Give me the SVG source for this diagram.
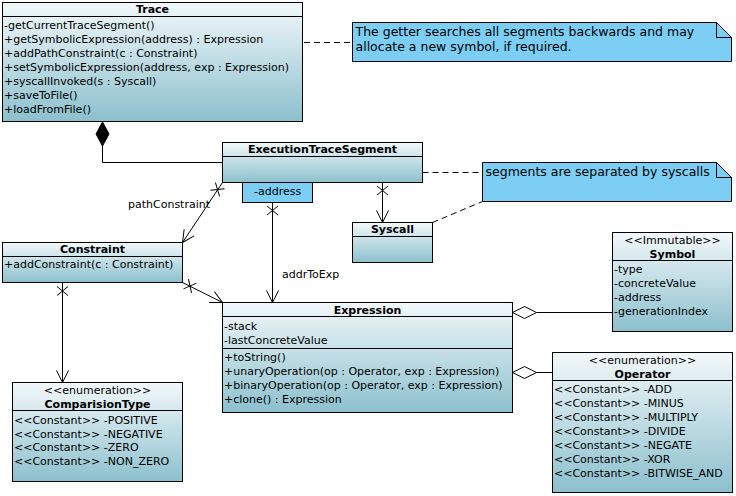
<svg xmlns="http://www.w3.org/2000/svg" width="736" height="496" viewBox="0 0 736 496">
<style>
text{font-family:"DejaVu Sans","Liberation Sans",sans-serif;font-size:11px;fill:#000}
.t{font-weight:bold;text-anchor:middle}
.st{text-anchor:middle}
.nt{font-size:12.5px}
.box{fill:url(#g);stroke:#000;stroke-width:1}
.div{stroke:#000;stroke-width:1;fill:none}
.note{fill:#7ccef4;stroke:#000;stroke-width:1}
.ln{stroke:#000;stroke-width:1;fill:none}
.dash{stroke:#000;stroke-width:1;fill:none;stroke-dasharray:6,4}
</style>
<defs>
<linearGradient id="g" x1="0" y1="0" x2="0" y2="1">
<stop offset="0" stop-color="#f2f8fa"/>
<stop offset="1" stop-color="#8cc0cd"/>
</linearGradient>
<marker id="arr" viewBox="-14 -8 16 16" markerWidth="16" markerHeight="16" refX="0" refY="0" orient="auto" markerUnits="userSpaceOnUse">
<path d="M-12,-6 L0,0 L-12,6" fill="none" stroke="#000" stroke-width="1"/>
</marker>
<path id="x" d="M-4.5,-5.5 L4.5,5.5 M-4.5,5.5 L4.5,-5.5" stroke="#000" stroke-width="1" fill="none"/>
</defs>

<g id="connectors">
<polygon points="102.5,122 109,134 102.5,146 96,134" fill="#000" stroke="#000"/>
<path class="ln" d="M102.5,146 V162.5 H222.5"/>
<path class="dash" d="M264,42.5 H352.5"/>
<path class="dash" d="M422.5,172.5 H482.5"/>
<path class="dash" d="M432.5,222.5 L482.5,201.5"/>
<path class="ln" d="M382.5,182.5 V222.5" marker-end="url(#arr)"/>
<use href="#x" transform="translate(382.5,190.5) rotate(90)"/>
<path class="ln" d="M222.5,182.5 L182.5,242.5" marker-end="url(#arr)"/>
<use href="#x" transform="translate(217.5,189.5) rotate(123.7)"/>
<text x="128" y="208">pathConstraint</text>
<path class="ln" d="M272.5,202.5 V302.5" marker-end="url(#arr)"/>
<use href="#x" transform="translate(272.5,210.5) rotate(90)"/>
<text x="282" y="278">addrToExp</text>
<path class="ln" d="M182.5,282.5 L222.5,302.5" marker-end="url(#arr)"/>
<use href="#x" transform="translate(190,286) rotate(26.6)"/>
<path class="ln" d="M62.5,282.5 V382.5" marker-end="url(#arr)"/>
<use href="#x" transform="translate(62.5,291) rotate(90)"/>
<polygon points="512.5,312.5 524.5,306.5 536.5,312.5 524.5,318.5" fill="#fff" stroke="#000"/>
<path class="ln" d="M536.5,312.5 H612.5"/>
<polygon points="512.5,372.5 524.5,366.5 536.5,372.5 524.5,378.5" fill="#fff" stroke="#000"/>
<path class="ln" d="M536.5,372.5 H552.5"/>
</g>

<g id="Trace">
<rect class="box" x="2.5" y="2.5" width="300" height="119"/>
<path class="div" d="M2.5,16.5 H302.5"/>
<text class="t" x="152.5" y="13">Trace</text>
<text x="4" y="29">-getCurrentTraceSegment()</text>
<text x="4" y="43">+getSymbolicExpression(address) : Expression</text>
<text x="4" y="57">+addPathConstraint(c : Constraint)</text>
<text x="4" y="71">+setSymbolicExpression(address, exp : Expression)</text>
<text x="4" y="85">+syscallInvoked(s : Syscall)</text>
<text x="4" y="99">+saveToFile()</text>
<text x="4" y="113">+loadFromFile()</text>
</g>

<g id="Note1">
<path class="note" d="M352.5,22.5 H716.5 L731.5,37.5 V61.5 H352.5 Z"/>
<path class="ln" d="M716.5,22.5 V37.5 H731.5"/>
<text class="nt" x="355.5" y="36">The getter searches all segments backwards and may</text>
<text class="nt" x="355.5" y="50.5">allocate a new symbol, if required.</text>
</g>

<g id="ExecutionTraceSegment">
<rect class="box" x="222.5" y="142.5" width="200" height="40"/>
<path class="div" d="M222.5,156.5 H422.5"/>
<text class="t" x="322.5" y="153">ExecutionTraceSegment</text>
</g>

<g id="address">
<rect class="note" x="242.5" y="182.5" width="70" height="20"/>
<text x="254" y="194.5">-address</text>
</g>

<g id="Note2">
<path class="note" d="M482.5,162.5 H716.5 L731.5,177.5 V201.5 H482.5 Z"/>
<path class="ln" d="M716.5,162.5 V177.5 H731.5"/>
<text class="nt" x="485.5" y="176">segments are separated by syscalls</text>
</g>

<g id="Syscall">
<rect class="box" x="352.5" y="222.5" width="80" height="40"/>
<path class="div" d="M352.5,236.5 H432.5"/>
<text class="t" x="392.5" y="233">Syscall</text>
</g>

<g id="Constraint">
<rect class="box" x="2.5" y="242.5" width="180" height="40"/>
<path class="div" d="M2.5,256.5 H182.5"/>
<text class="t" x="92.5" y="253">Constraint</text>
<text x="4" y="268">+addConstraint(c : Constraint)</text>
</g>

<g id="Symbol">
<rect class="box" x="612.5" y="232.5" width="120" height="99"/>
<path class="div" d="M612.5,260.5 H732.5"/>
<text class="st" x="672.5" y="243.5">&lt;&lt;Immutable&gt;&gt;</text>
<text class="t" x="672.5" y="257.5">Symbol</text>
<text x="614" y="273">-type</text>
<text x="614" y="287">-concreteValue</text>
<text x="614" y="301">-address</text>
<text x="614" y="315">-generationIndex</text>
</g>

<g id="Expression">
<rect class="box" x="222.5" y="302.5" width="290" height="110"/>
<path class="div" d="M222.5,316.5 H512.5 M222.5,348.5 H512.5"/>
<text class="t" x="367.5" y="313.5">Expression</text>
<text x="224" y="329.5">-stack</text>
<text x="224" y="343.5">-lastConcreteValue</text>
<text x="224" y="361">+toString()</text>
<text x="224" y="375">+unaryOperation(op : Operator, exp : Expression)</text>
<text x="224" y="389">+binaryOperation(op : Operator, exp : Expression)</text>
<text x="224" y="403">+clone() : Expression</text>
</g>

<g id="Operator">
<rect class="box" x="552.5" y="352.5" width="180" height="140"/>
<path class="div" d="M552.5,380.5 H732.5"/>
<text class="st" x="642.5" y="363.5">&lt;&lt;enumeration&gt;&gt;</text>
<text class="t" x="642.5" y="377.5">Operator</text>
<text x="554" y="393">&lt;&lt;Constant&gt;&gt; -ADD</text>
<text x="554" y="407">&lt;&lt;Constant&gt;&gt; -MINUS</text>
<text x="554" y="421">&lt;&lt;Constant&gt;&gt; -MULTIPLY</text>
<text x="554" y="435">&lt;&lt;Constant&gt;&gt; -DIVIDE</text>
<text x="554" y="449">&lt;&lt;Constant&gt;&gt; -NEGATE</text>
<text x="554" y="463">&lt;&lt;Constant&gt;&gt; -XOR</text>
<text x="554" y="477">&lt;&lt;Constant&gt;&gt; -BITWISE_AND</text>
</g>

<g id="ComparisionType">
<rect class="box" x="12.5" y="382.5" width="170" height="99"/>
<path class="div" d="M12.5,410.5 H182.5"/>
<text class="st" x="97.5" y="393.5">&lt;&lt;enumeration&gt;&gt;</text>
<text class="t" x="97.5" y="407.5">ComparisionType</text>
<text x="14" y="423.5">&lt;&lt;Constant&gt;&gt; -POSITIVE</text>
<text x="14" y="437.5">&lt;&lt;Constant&gt;&gt; -NEGATIVE</text>
<text x="14" y="451">&lt;&lt;Constant&gt;&gt; -ZERO</text>
<text x="14" y="465">&lt;&lt;Constant&gt;&gt; -NON_ZERO</text>
</g>
</svg>
